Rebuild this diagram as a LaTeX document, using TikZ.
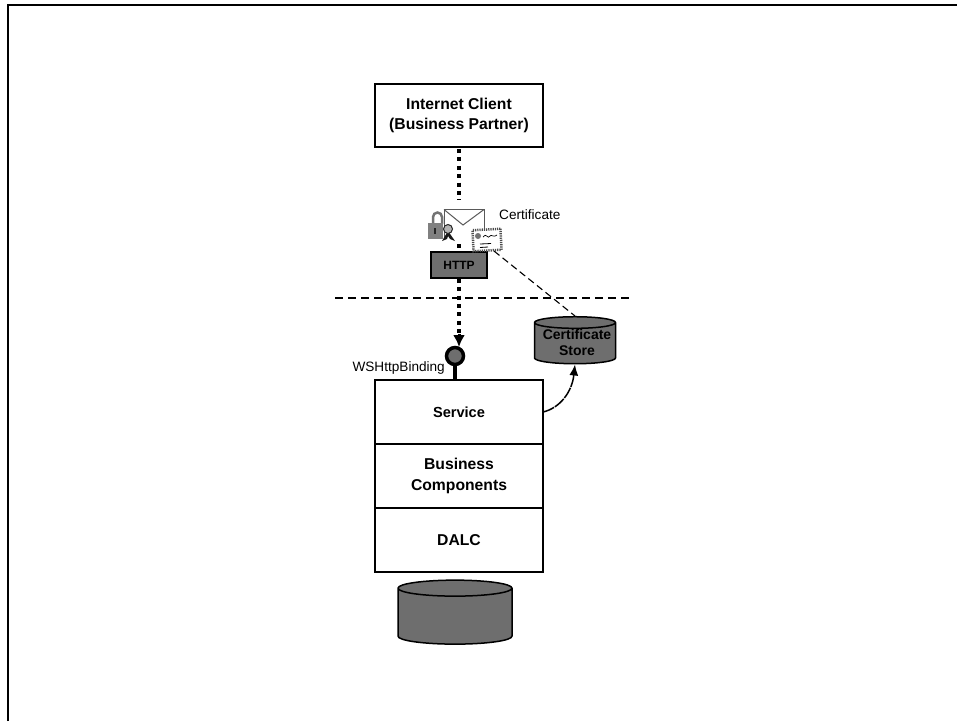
\documentclass[tikz,border=0pt]{standalone}
\usepackage{fontspec}
\setmainfont{Liberation Sans}
\usetikzlibrary{arrows.meta,shapes.geometric,positioning}
\definecolor{storegray}{gray}{0.43}
\newcommand{\storeline}[1]{\hspace*{4pt}\raisebox{2pt}{#1}}
\tikzset{
  layerbox/.style={draw,line width=1.8pt,minimum width=168pt,outer sep=0pt,font=\bfseries\fontsize{15.7}{20.5}\selectfont,align=center,inner sep=0pt},
  store/.style={draw,line width=1.5pt,fill=storegray,cylinder,shape border rotate=90,aspect=0.16,inner sep=0pt,font=\bfseries\fontsize{14}{16}\selectfont,align=center},
  dotline/.style={line width=4pt,dash pattern=on 4pt off 4.4pt},
  caption/.style={font=\fontsize{13.6}{16}\selectfont,inner sep=0pt}
}
\begin{document}
\begin{tikzpicture}[x=1pt,y=-1pt]
\useasboundingbox (0,0) rectangle (957,721);
% Frame
\draw[line width=2pt] (7.5,721) -- (7.5,5) -- (957,5);
% Nodes
\node[layerbox,minimum height=63pt] (client) at (459,115.5) {Internet Client\\(Business Partner)};
\node[draw,line width=1.6pt,fill=storegray,minimum width=56pt,minimum height=26pt,inner sep=0pt,font=\bfseries\fontsize{12}{15}\selectfont] (http) at (459,265) {HTTP};
\node[layerbox,minimum height=64pt,font=\bfseries\fontsize{14.6}{17}\selectfont] (service) at (459,412) {Service};
\node[layerbox,minimum height=64pt,below=0pt of service] (business) {Business\\Components};
\node[layerbox,minimum height=64pt,below=0pt of business] (dalc) {DALC};
\node[store,minimum width=81pt,minimum height=47pt] (certstore) at (575,343.5) {\storeline{Certificate}\\\storeline{Store}};
\node[store,minimum width=114pt,minimum height=64pt] (database) at (455,616.5) {\hspace*{100pt}};
\node[draw,circle,line width=3.5pt,fill=storegray,minimum size=17pt,inner sep=0pt] (endpoint) at (455,356) {};
\node[caption,anchor=west] (certlabel) at (499,215) {Certificate};
\node[caption,anchor=east] (bindinglabel) at (445,368) {WSHttpBinding};
% Envelope
\draw[black!65,line width=1pt,fill=white] (444,238) -- (444,209.5) -- (484,209.5) -- (484,238);
\draw[black!65,line width=1pt] (444,209.5) -- (463,225) -- (484,209.5);
% Lock and seal
\draw[black!55,line width=2.5pt] (433,224) -- (433,217) arc (180:360:4.5) -- (442,224);
\node[fill=black!50,minimum width=15pt,minimum height=16pt,inner sep=0pt] (lock) at (435.5,231) {};
\fill[black!85] (434,228) rectangle (436,234);
\fill[black!90] (448,231) -- (442,241) -- (447,239) -- (448,236) -- (450,239) -- (455,241) -- cycle;
\node[draw=black!85,line width=1pt,circle,fill=black!30,minimum size=9pt,inner sep=0pt] (seal) at (448,229) {};
% Certificate icon
\node[draw=black!70,line width=2.5pt,dash pattern=on 1.2pt off 1pt,fill=white,minimum width=28pt,minimum height=21pt,inner sep=0pt,rotate=3] (certicon) at (487,240) {};
\fill[black!55] (478,236) circle (3);
\draw[line width=.7pt] (483,237) .. controls (486,232) and (488,240) .. (490,236) .. controls (491,234) and (494,238) .. (497,235);
\draw[line width=.8pt] (480,244) -- (491,243.5) (480,247.5) -- (488,247);
\coordinate (certfoot) at (494,251);
% Connectors
\draw[dotline] (client.south) ++(0,2) -- (459,200);
\draw[dotline] (459,244) -- (459,248);
\draw[dotline] (http.south) -- (459,336);
\draw[-{Latex[length=12pt,width=12pt]},line width=3pt] (459,334) -- (459,347);
\draw[line width=4pt] (endpoint.south) -- (service.north -| endpoint);
\draw[line width=1.1pt,dash pattern=on 7pt off 4pt] (certfoot) -- (certstore.north);
\draw[line width=1.5pt,dash pattern=on 12pt off 1pt,-{Latex[length=11pt,width=9pt]}] (service.east) .. controls (560,408) and (572,392) .. (certstore.south);
\draw[line width=1.5pt,dash pattern=on 8pt off 5pt] (335,298) -- (632,298);
\end{tikzpicture}
\end{document}
